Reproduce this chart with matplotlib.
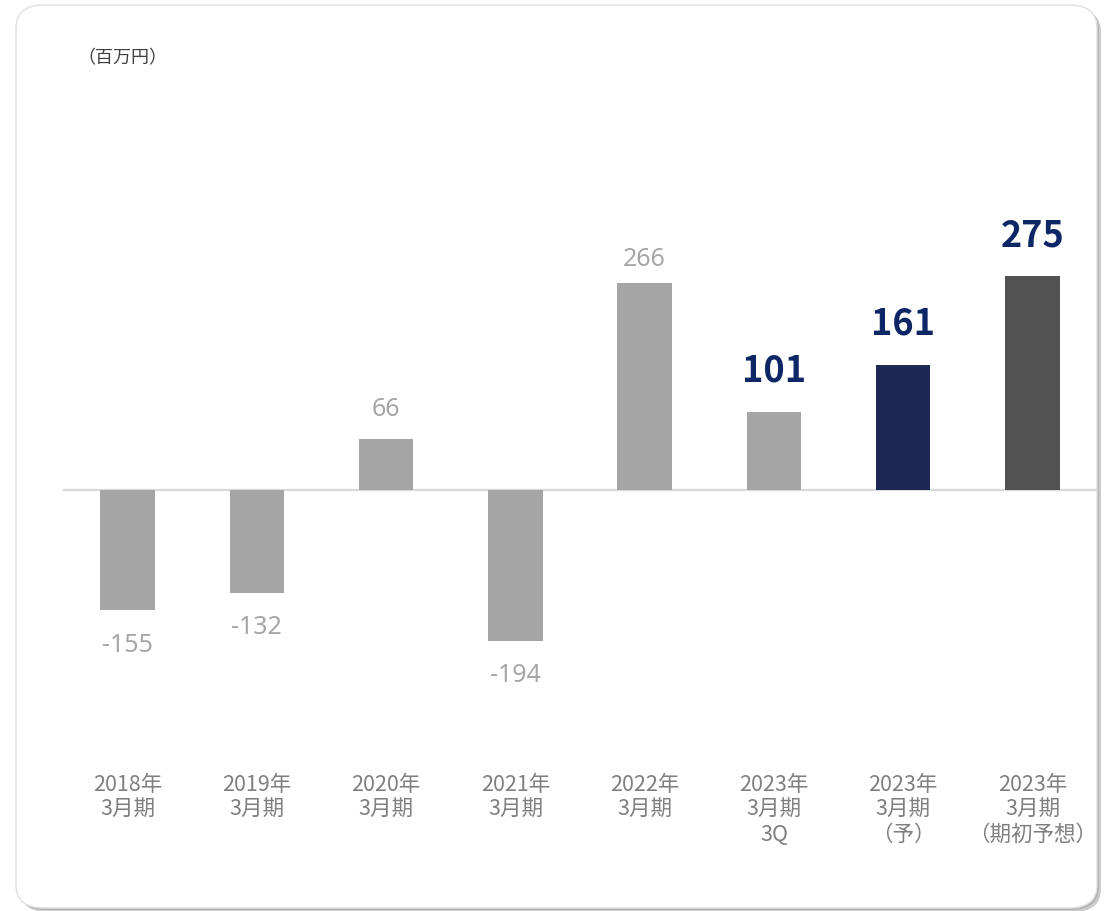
import matplotlib
matplotlib.use("Agg")
import matplotlib.pyplot as plt
from matplotlib.patches import FancyBboxPatch

plt.rcParams['font.family'] = ['Noto Sans CJK JP', 'DejaVu Sans']

# Operating profit by fiscal year (millions of yen)
categories = [
    "2018年\n3月期",
    "2019年\n3月期",
    "2020年\n3月期",
    "2021年\n3月期",
    "2022年\n3月期",
    "2023年\n3月期\n3Q",
    "2023年\n3月期\n（予）",
    "2023年\n3月期\n（期初予想）",
]
values = [-155, -132, 66, -194, 266, 101, 161, 275]
bar_colors = ["#A5A5A5", "#A5A5A5", "#A5A5A5", "#A5A5A5", "#A5A5A5",
              "#A5A5A5", "#1C2754", "#525252"]
highlight = [False, False, False, False, False, True, True, True]
unit_label = "（百万円）"

W, H = 1109, 911
fig = plt.figure(figsize=(W / 100, H / 100), dpi=100)
fig.patch.set_facecolor("white")


def fx(px):
    return px / W


def fy(py):
    return 1 - py / H


# Card background with a soft drop shadow
card_l, card_t, card_r, card_b = 16, 5, 1097, 908
rad = 28
for off, col in [(4, "#CCCCCC"), (2, "#B4B4B4")]:
    shadow = FancyBboxPatch((fx(card_l + off), fy(card_b + off)),
                            fx(card_r - card_l), (card_b - card_t) / H,
                            boxstyle=f"round,pad=0,rounding_size={rad / W}",
                            transform=fig.transFigure, facecolor=col,
                            edgecolor="none", zorder=0)
    fig.patches.append(shadow)
card = FancyBboxPatch((fx(card_l), fy(card_b)),
                      fx(card_r - card_l), (card_b - card_t) / H,
                      boxstyle=f"round,pad=0,rounding_size={rad / W}",
                      transform=fig.transFigure, facecolor="white",
                      edgecolor="#E0E0E0", linewidth=1.0, zorder=1)
fig.patches.append(card)

# Plot area: zero line at y=490 px, ~0.777 px per unit
ax_l, ax_r = 63, 1097
ax_t, ax_b = 150, 760
ax = fig.add_axes([fx(ax_l), fy(ax_b), (ax_r - ax_l) / W, (ax_b - ax_t) / H])
ax.set_zorder(2)
ax.patch.set_alpha(0)
scale = 0.777
ax.set_ylim(-(ax_b - 490) / scale, (490 - ax_t) / scale)
ax.set_xlim(-0.5, len(values) - 0.5)

x = list(range(len(values)))
ax.bar(x, values, width=0.42, color=bar_colors, zorder=2)
ax.axhline(0, color="#D9D9D9", linewidth=1.6, zorder=1)

num_font = ["Noto Sans", "DejaVu Sans"]
for xi, v, hl in zip(x, values, highlight):
    if hl:
        ax.annotate(f"{v}", (xi, v), xytext=(0, 16), textcoords="offset points",
                    ha="center", va="bottom", fontsize=26, fontweight="bold",
                    color="#0D2766", family=["Noto Sans CJK JP", "DejaVu Sans"])
    elif v >= 0:
        off = 8 if v > 100 else 12
        ax.annotate(f"{v}", (xi, v), xytext=(0, off), textcoords="offset points",
                    ha="center", va="bottom", fontsize=18,
                    color="#A6A6A6", family=num_font)
    else:
        ax.annotate(f"{v}", (xi, v), xytext=(0, -16), textcoords="offset points",
                    ha="center", va="top", fontsize=18,
                    color="#A6A6A6", family=num_font)

ax.set_xticks([])
ax.set_yticks([])
for s in ax.spines.values():
    s.set_visible(False)

# Category labels under the plot
for xi, lab in zip(x, categories):
    px = ax_l + (xi + 0.5) / len(values) * (ax_r - ax_l)
    fig.text(fx(px), fy(774), lab, ha="center", va="top", fontsize=15.5,
             color="#7F7F7F", linespacing=1.17, zorder=3)

fig.text(fx(77), fy(58), unit_label, ha="left", va="center", fontsize=13,
         color="#404040", zorder=3)

fig.savefig("out.png", dpi=100, facecolor="white")
